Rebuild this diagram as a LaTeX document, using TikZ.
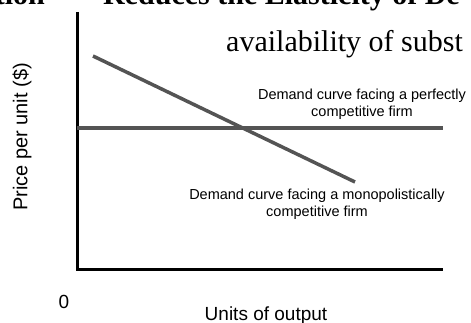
\documentclass[tikz,border=0pt]{standalone}
\usepackage{fontspec}
\setmainfont{Liberation Serif}
\setsansfont{Liberation Sans}
\begin{document}
\begin{tikzpicture}[x=1pt,y=-1pt,
  axis/.style={line width=3pt,black},
  curve/.style={line width=3.5pt,draw=black!67},
  lab/.style={font=\sffamily\fontsize{14.5}{17}\selectfont,align=center,inner sep=0pt},
  big/.style={font=\sffamily\fontsize{19}{22}\selectfont,inner sep=0pt},
  ttl/.style={font=\fontsize{30}{34}\selectfont,inner sep=0pt}]
\useasboundingbox (0,0) rectangle (471,323);
\clip (0,0) rectangle (471,323);
% title fragments
\node[ttl,font=\bfseries\fontsize{30}{34}\selectfont,anchor=base east] (t1) at (45,5) {tion};
\node[ttl,font=\bfseries\fontsize{30}{34}\selectfont,anchor=base west] (t2) at (103,5) {Reduces the Elasticity of De};
\node[ttl,anchor=base west] (t3) at (226,52) {availability of subst};
% axes
\coordinate (top) at (77,12);
\coordinate (o) at (77,269);
\coordinate (xr) at (443,269);
\draw[axis] (top) -- (o) -- (xr);
% curves
\coordinate (hl) at (77,128);
\coordinate (hr) at (443,128);
\draw[curve] (hl) -- (hr);
\coordinate (da) at (93,56);
\coordinate (db) at (355,182);
\draw[curve] (da) -- (db);
% labels
\node[lab,anchor=base] (pc) at (362,117) {Demand curve facing a perfectly\\competitive firm};
\node[lab,anchor=base] (mc) at (317,216) {Demand curve facing a monopolistically\\competitive firm};
\node[big] (zero) at (64,302) {0};
\node[big,anchor=base] (xl) at (266,320) {Units of output};
\node[big,font=\sffamily\fontsize{20}{22}\selectfont,rotate=90] (yl) at (22,137) {Price per unit (\$)};
\end{tikzpicture}
\end{document}
